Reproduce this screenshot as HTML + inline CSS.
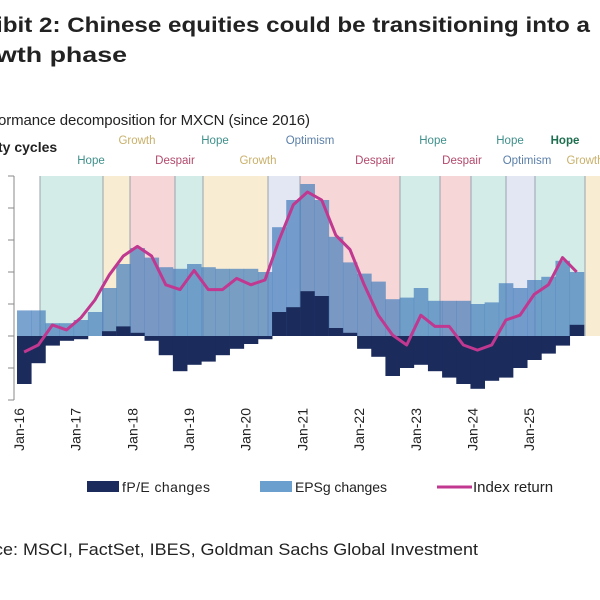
<!DOCTYPE html>
<html><head><meta charset="utf-8"><style>
body{margin:0;background:#fff;width:600px;height:600px;overflow:hidden;font-family:"Liberation Sans",sans-serif}
svg{position:absolute;left:0;top:0}
</style></head><body>
<svg width="600" height="600">
<text x="-4" y="32" font-size="21" font-weight="bold" fill="#222" textLength="594" lengthAdjust="spacingAndGlyphs">ibit 2: Chinese equities could be transitioning into a</text>
<text x="-4" y="62" font-size="21" font-weight="bold" fill="#222" textLength="131" lengthAdjust="spacingAndGlyphs">wth phase</text>
<text x="-2" y="125" font-size="15" fill="#222" textLength="312">ormance decomposition for MXCN (since 2016)</text>
<text x="-2" y="152" font-size="14" font-weight="bold" fill="#222">ty cycles</text>
<g id="bands"></g><g id="bars"></g><g id="line"></g><g id="axis"></g><g id="labels"></g>
<g>
<rect x="87" y="481" width="32" height="11" fill="#1b2b5c"/>
<text x="122" y="492" font-size="14" fill="#222" textLength="88">fP/E changes</text>
<rect x="260" y="481" width="32" height="11" fill="#6a9fce"/>
<text x="295" y="492" font-size="14" fill="#222" textLength="92">EPSg changes</text>
<line x1="437" y1="487" x2="472" y2="487" stroke="#c0388f" stroke-width="3"/>
<text x="473" y="492" font-size="15" fill="#222">Index return</text>
</g>
<text x="-6" y="555" font-size="17" fill="#222" textLength="484" lengthAdjust="spacingAndGlyphs">ce: MSCI, FactSet, IBES, Goldman Sachs Global Investment</text>
</svg>
<script>
const quarters=40;
const epsValues=[16,16,8,8,10,15,30,45,55,49,43,42,45,43,42,42,42,40,68,85,95,85,62,46,39,34,23,24,30,22,22,22,20,21,33,30,35,37,47,40];
const fpeValues=[-30,-17,-6,-3,-2,0,3,6,2,-3,-12,-22,-18,-16,-12,-8,-5,-2,15,18,28,25,5,2,-8,-13,-25,-20,-18,-22,-26,-30,-33,-28,-26,-20,-15,-11,-6,7];
const indexValues=[-10,-5.6,6.9,3.8,11.3,22.5,38,50,56,50,32,29,41,29,29,36,32,35,60,82,90,85,63,54,32,13,0.6,-5.6,13,6,6,-5.6,-8.8,-5.6,10,13,26,32,49,40];
const yearLabels=["Jan-16","Jan-17","Jan-18","Jan-19","Jan-20","Jan-21","Jan-22","Jan-23","Jan-24","Jan-25"];
const regimes=[["Hope",40,103],["Growth",103,130],["Despair",130,175],["Hope",175,203],["Growth",203,268],["Optimism",268,300],["Despair",300,400],["Hope",400,440],["Despair",440,471],["Hope",471,506],["Optimism",506,535],["Hope",535,585],["Growth",585,600]];
const topLabels=[["Growth",137,144,"#c9b06a"],["Hope",215,144,"#3f8f8a"],["Optimism",310,144,"#5a7fa8"],["Hope",433,144,"#3f8f8a"],["Hope",510,144,"#3f8f8a"],["Hope",565,144,"#1e6e50"],["Hope",91,164,"#3f8f8a"],["Despair",175,164,"#b2496b"],["Growth",258,164,"#c9b06a"],["Despair",375,164,"#b2496b"],["Despair",462,164,"#b2496b"],["Optimism",527,164,"#5a7fa8"],["Growth",585,164,"#c9b06a"]];
const NS="http://www.w3.org/2000/svg";
const X0=17,QW=14.17;
const xq=i=>X0+i*QW;
const y=v=>336-v*1.6;
function mk(t,p,a){const e=document.createElementNS(NS,t);for(const k in a)e.setAttribute(k,a[k]);p.appendChild(e);return e;}
const col={Hope:"#d3ece8",Growth:"#f8ecd3",Despair:"#f7d6d8",Optimism:"#e3e6f3"};
const bands=document.getElementById('bands');
regimes.forEach(r=>{
 const e=mk('rect',bands,{x:r[1],y:176,width:r[2]-r[1],height:160,fill:col[r[0]]});
 
 
 const l=mk('line',bands,{x1:r[1],x2:r[1],y1:176,y2:336,stroke:"#9aa3ad","stroke-width":1});
 
 
});
const bars=document.getElementById('bars');
for(let i=0;i<quarters;i++){
 const e=epsValues[i],f=fpeValues[i];
 const b=mk('rect',bars,{x:xq(i),width:QW+0.4,y:Math.min(y(e),y(0)),height:Math.abs(y(e)-y(0)),fill:"rgba(72,128,188,0.72)"});
 
 
 const n=mk('rect',bars,{x:xq(i),width:QW+0.4,y:Math.min(y(f),y(0)),height:Math.abs(y(f)-y(0)),fill:"#1b2b5c"});
 
 
}
const ln=document.getElementById('line');
const pts=indexValues.map((v,i)=>(xq(i)+QW/2).toFixed(1)+","+y(v).toFixed(1)).join(" ");
const pl=mk('polyline',ln,{points:pts,fill:"none",stroke:"#c0388f","stroke-width":3,"stroke-linejoin":"round"});


const ax=document.getElementById('axis');
const al=mk('line',ax,{x1:14,x2:14,y1:176,y2:400,stroke:"#888","stroke-width":1});


[-40,-20,0,20,40,60,80,100].forEach(v=>{const t=mk('line',ax,{x1:8,x2:14,y1:y(v),y2:y(v),stroke:"#888"});
 
 });
yearLabels.forEach((s,k)=>{
 const x=X0+k*4*QW+2;
 const t=mk('text',ax,{x:0,y:0,"font-size":14,fill:"#222","text-anchor":"end",transform:`translate(${x+5},408) rotate(-90)`});
 t.textContent=s;
 
 
});
const lb=document.getElementById('labels');
topLabels.forEach(r=>{
 const t=mk('text',lb,{x:r[1],y:r[2],"font-size":11.5,fill:r[3],"text-anchor":"middle","font-weight":r[3]=="#1e6e50"?"bold":"normal"});
 t.textContent=r[0];
 
 
});
</script>
</body></html>
